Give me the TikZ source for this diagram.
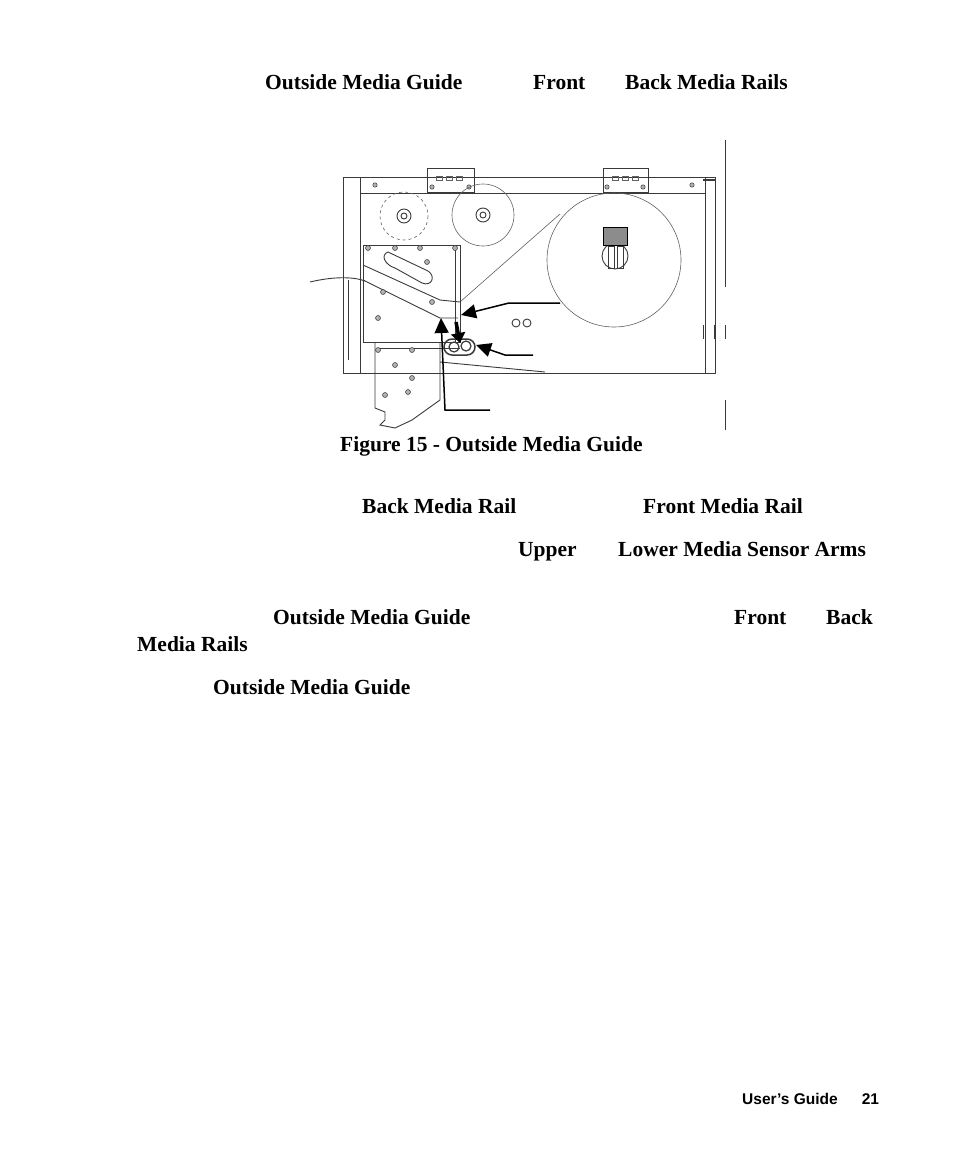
\documentclass[tikz,border=0pt]{standalone}
\usepackage{fontspec}
\setmainfont{Liberation Serif}
\setsansfont{Liberation Sans}
\usetikzlibrary{positioning,arrows.meta}
\definecolor{PartGray}{HTML}{3A3A3A}
\definecolor{CapGray}{HTML}{8C8C8C}

\begin{document}
\begin{tikzpicture}[
      x=1pt, y=-1pt,
      every node/.style={inner sep=0pt, anchor=base west, font=\fontsize{21.5}{24}\selectfont\bfseries},
      part/.style={draw=PartGray, line width=0.9pt},
      thin part/.style={draw=PartGray!80, line width=0.6pt},
      screw/.style={draw=PartGray, fill=PartGray!40, line width=0.5pt},
      callout/.style={line width=1.5pt, -{Triangle[length=15pt, width=14pt]}}
    ]
      \useasboundingbox (0,0) rectangle (954,1159);

      % Heading words
      \node (hguide) at (265,89) {Outside Media Guide};
      \node (hfront) at (533,89) {Front};
      \node (hrails) at (625,89) {Back Media Rails};

      % Frame
      \draw[part] (343,177) rectangle (715,373);
      \draw[part] (360,177) -- (360,373);
      \draw[part] (360,193) -- (705,193);
      \draw[part] (705,177) -- (705,373);
      \draw[part, line width=2pt] (703,180) -- (715,180);
      \draw[part] (427,168) rectangle (474,192);
      \draw[part] (603,168) rectangle (648,192);
      \foreach \x in {436,446,456} \draw[thin part] (\x,176) rectangle ++(6,4);
      \foreach \x in {612,622,632} \draw[thin part] (\x,176) rectangle ++(6,4);
      \foreach \x/\y in {375/185, 432/187, 469/187, 607/187, 643/187, 692/185}
        \filldraw[screw] (\x,\y) circle (2.2);

      % Ribbon rollers
      \draw[thin part, dashed] (404,216) circle (24);
      \draw[part] (404,216) circle (7);
      \draw[part] (404,216) circle (3);
      \draw[thin part] (483,215) circle (31);
      \draw[part] (483,215) circle (7);
      \draw[part] (483,215) circle (3);

      % Media roll
      \draw[thin part] (614,260) circle (67);
      \draw[part] (615,256) circle (13);
      \draw[part] (608,246) rectangle (614,268);
      \draw[part] (617,246) rectangle (623,268);
      \draw[fill=CapGray, line width=0.9pt] (603,227) rectangle (627,245);
      \draw[thin part] (560,214) -- (460,302);

      % Media web
      \draw[part] (310,282) .. controls (335,276) and (355,277) .. (365,281);

      % Printhead assembly
      \draw[part] (363,245) rectangle (460,342);
      \draw[part] (455,245) -- (455,342);
      \draw[part] (363,265) -- (440,300) -- (460,302);
      \draw[part] (363,280) -- (440,318) -- (458,318);
      \draw[part] (388,252) .. controls (380,255) and (385,265) .. (395,268)
        -- (422,283) .. controls (432,287) and (436,276) .. (428,271) -- cycle;
      \draw[part] (375,342) -- (375,408) -- (385,412) -- (385,420) -- (380,425)
        -- (395,428) -- (412,420) -- (440,400) -- (440,342);
      \draw[part] (378,348) -- (460,348);
      \draw[part] (348,280) -- (348,360);
      \draw[part] (440,362) -- (545,372);
      \foreach \x/\y in {368/248, 395/248, 420/248, 455/248, 383/292, 378/318,
          378/350, 412/350, 395/365, 412/378, 408/392, 385/395, 427/262, 432/302}
        \filldraw[screw] (\x,\y) circle (2.5);
      \foreach \x/\y in {516/323, 527/323}
        \draw[part] (\x,\y) circle (4);

      % Outside media guide
      \draw[part, line width=1.5pt, rounded corners=8pt] (444,339) rectangle (475,355);
      \draw[part, line width=1.2pt] (454,347) circle (5);
      \draw[part, line width=1.2pt] (466,346) circle (5);

      % Side rails
      \draw[part] (725,140) -- (725,287);
      \foreach \x in {703,714,725} \draw[part] (\x,325) -- (\x,339);
      \draw[part] (725,400) -- (725,430);

      % Callouts
      \coordinate (rearrail) at (560,303);
      \coordinate (sensor) at (533,355);
      \coordinate (frontrail) at (490,410);
      \draw[callout] (rearrail) -- (509,303) -- (461,315);
      \draw[callout] (sensor) -- (505,355) -- (476,345);
      \draw[callout] (frontrail) -- (445,410) -- (441,318);
      \draw[line width=3.5pt, -{Triangle[length=10pt, width=14pt]}] (456,322) -- (460,343);

      % Caption
      \node (caption) at (340,451) {Figure 15 - Outside Media Guide};

      % Body text words
      \node (brail) at (362,513) {Back Media Rail};
      \node (frail) at (643,513) {Front Media Rail};
      \node (upper) at (518,556) {Upper};
      \node (lower) at (618,556) {Lower Media Sensor Arms};
      \node (guide2) at (273,624) {Outside Media Guide};
      \node (front2) at (734,624) {Front};
      \node (back2) at (826,624) {Back};
      \node (rails2) at (137,651) {Media Rails};
      \node (guide3) at (213,694) {Outside Media Guide};

      % Footer
      \node[font=\sffamily\bfseries\fontsize{15.5}{18}\selectfont] (footer) at (742,1104)
        {User's Guide\hspace{24pt}21};
    \end{tikzpicture}
\end{document}
